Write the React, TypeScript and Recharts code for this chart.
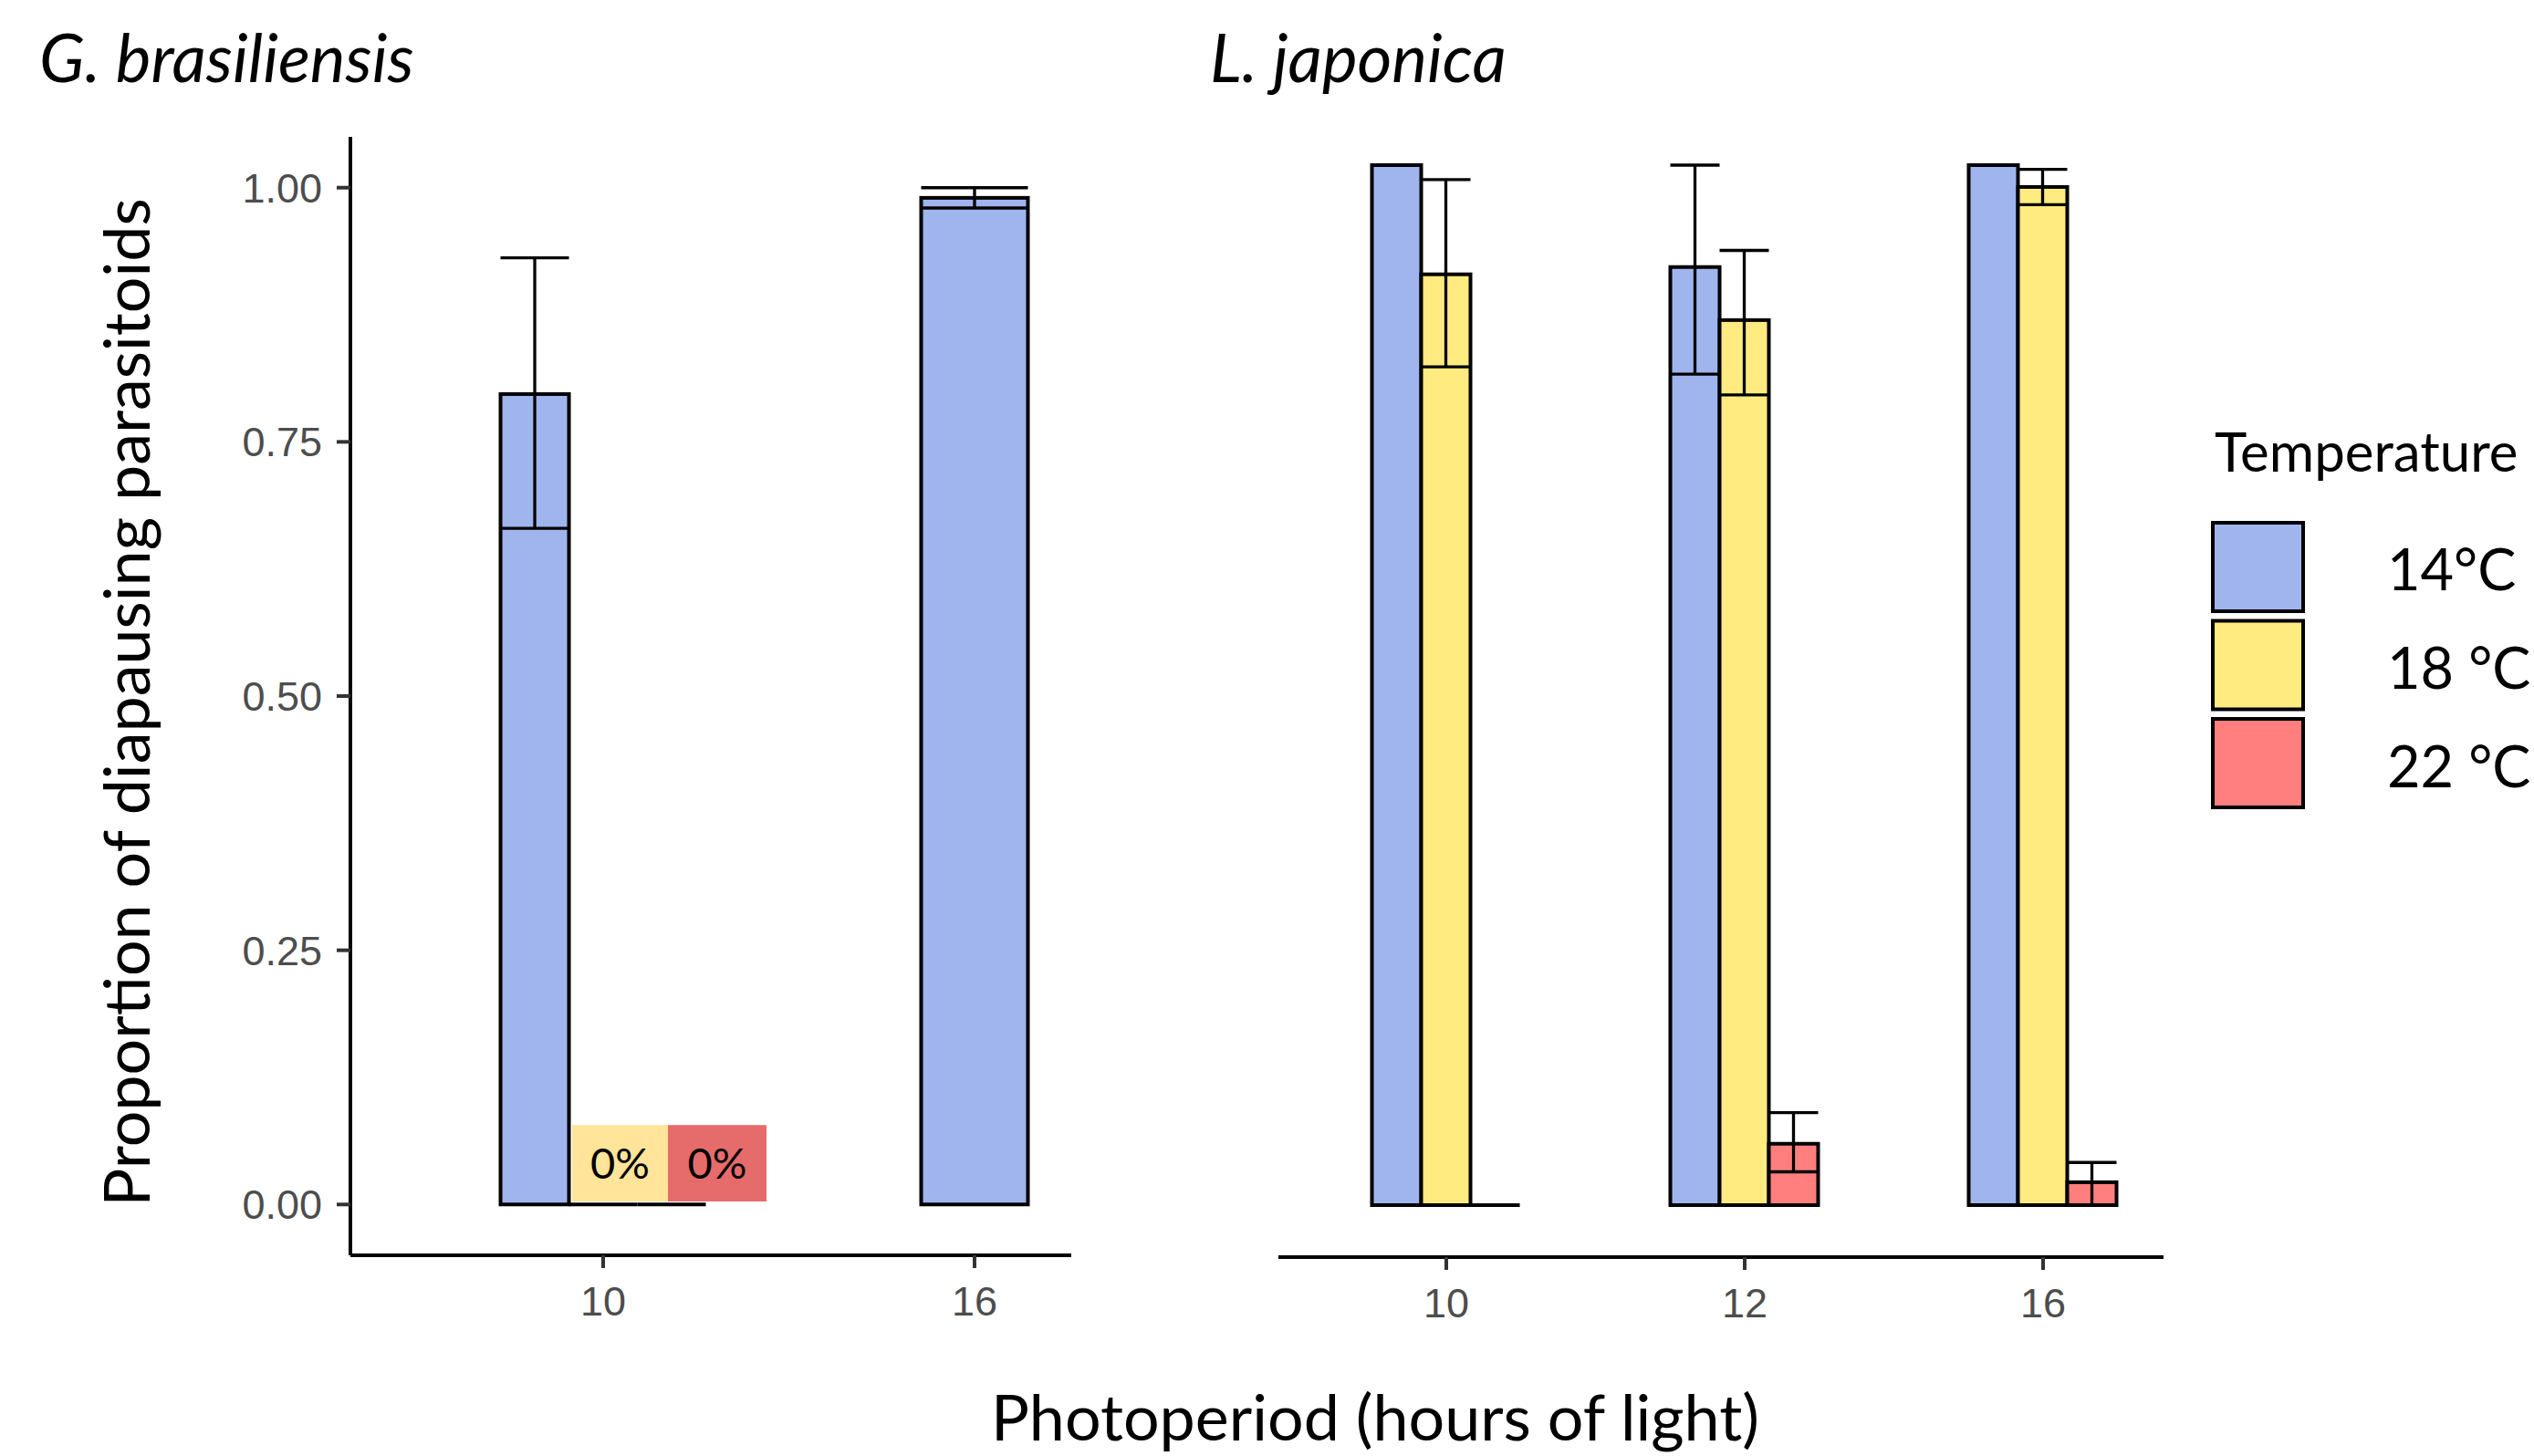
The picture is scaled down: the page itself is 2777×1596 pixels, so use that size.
import React from 'react';
import { BarChart, Bar, XAxis, YAxis, ErrorBar, ReferenceArea, Legend } from 'recharts';

const W = 2777;
const H = 1596;

// ---- G. brasiliensis ----
const gbPhotoperiod = [10, 16];
const gb14: (number | null)[] = [0.797, 0.99];
const gb14Low: (number | null)[] = [0.665, 0.98];
const gb14High: (number | null)[] = [0.931, 1.0];
const gb18: (number | null)[] = [0, null];
const gb22: (number | null)[] = [0, null];

// ---- L. japonica ----
const ljPhotoperiod = ['10', '12', '16'];
const lj14: (number | null)[] = [1.0, 0.902, 1.0];
const lj14Low: (number | null)[] = [null, 0.799, null];
const lj14High: (number | null)[] = [null, 1.0, null];
const lj18: (number | null)[] = [0.895, 0.851, 0.979];
const lj18Low: (number | null)[] = [0.806, 0.779, 0.962];
const lj18High: (number | null)[] = [0.986, 0.918, 0.996];
const lj22: (number | null)[] = [0, 0.059, 0.022];
const lj22Low: (number | null)[] = [null, 0.032, 0];
const lj22High: (number | null)[] = [null, 0.089, 0.041];

const temps = ['14°C', '18 °C', '22 °C'];
const tempColors = ['#A0B4ED', '#FFEB80', '#FF7F7F'];
const yTicks = [0, 0.25, 0.5, 0.75, 1];

// "0%" annotation boxes in the G. brasiliensis panel (data units)
const zeroLabels = ['0%', '0%'];
const zeroColors = ['#FFE49A', '#E66B6B'];
const zeroBoxX = [9.499, 11.047, 12.639];
const zeroBoxY = [0.003, 0.078];

const err = (v: number | null, lo: number | null, hi: number | null) =>
  v == null || lo == null || hi == null ? null : [v - lo, hi - v];

const gbRows = gbPhotoperiod.map((p, i) => {
  const single = gb18[i] == null && gb22[i] == null;
  return {
    x: p,
    t14: single ? null : gb14[i],
    e14: single ? null : err(gb14[i], gb14Low[i], gb14High[i]),
    t18: gb18[i],
    t22: gb22[i],
    s14: single ? gb14[i] : null,
    es14: single ? err(gb14[i], gb14Low[i], gb14High[i]) : null,
  };
});

const ljRows = ljPhotoperiod.map((p, i) => ({
  i,
  label: p,
  t14: lj14[i],
  e14: err(lj14[i], lj14Low[i], lj14High[i]),
  t18: lj18[i],
  e18: err(lj18[i], lj18Low[i], lj18High[i]),
  t22: lj22[i],
  e22: err(lj22[i], lj22Low[i], lj22High[i]),
}));

const BAR_STROKE = 4;
const ERR_STROKE = 3.3;

const makeShape = (key: string) => (props: any) => {
  const { x, y, width, height, fill, payload } = props;
  const v = payload ? payload[key] : undefined;
  if (v == null || x == null || y == null) return <g />;
  const h = Math.abs(height || 0);
  const top = height < 0 ? y + height : y;
  if (h < 0.5) {
    return (
      <line x1={x} x2={x + width} y1={top} y2={top} stroke="#000" strokeWidth={BAR_STROKE} />
    );
  }
  return (
    <rect x={x} y={top} width={width} height={h} fill={fill} stroke="#000" strokeWidth={BAR_STROKE} />
  );
};

const tickStyle = { fill: '#4d4d4d', fontSize: 45, fontFamily: 'Liberation Sans, Arial, sans-serif' };
const axisLineStyle = { stroke: '#000', strokeWidth: 4 };
const tickLineStyle = { stroke: '#333', strokeWidth: 4 };

// Geometry of the panels (pixels)
const GB_LEFT = 384;
const GB_RIGHT = 1174;
const GB_TOP = 150;
const GB_BOTTOM = 1376;
const LJ_LEFT = 1401;
const LJ_RIGHT = 2371;
const LJ_TOP = 124;
const LJ_BOTTOM = 1378;
const X_AXIS_H = 100;
const Y_AXIS_W = 200;

const gbDomain: [number, number] = [5.916, 17.563];
const ljDomain: [number, number] = [-0.5627, 2.4037];
const yDomain: [number, number] = [-0.05, 1.05];

// ErrorBar "width" in Recharts is the half-length of the whisker
const GB_BAR = 75;
const GB_SINGLE_BAR = 117;
const LJ_BAR = 54;

const renderLegend = (props: any) => {
  const items = (props && props.payload) || [];
  return (
    <svg width={397} height={480} style={{ overflow: 'visible', display: 'block' }}>
      <text x={47} y={97} fontFamily="Lato" fontSize={60} fill="#000">
        Temperature
      </text>
      {items.map((it: any, k: number) => (
        <g key={k}>
          <rect
            x={45}
            y={153 + k * 107.5}
            width={99}
            height={97}
            fill={it.color}
            stroke="#000"
            strokeWidth={4}
          />
          <text x={236} y={227 + k * 108} fontFamily="Lato" fontSize={63} fill="#000">
            {it.value}
          </text>
        </g>
      ))}
    </svg>
  );
};

export default function App() {
  const layer: React.CSSProperties = { position: 'absolute', left: 0, top: 0 };
  return (
    <div style={{ position: 'absolute', left: 0, top: 0, width: W, height: H, background: '#fff', overflow: 'hidden' }}>
      {/* G. brasiliensis: grouped bars */}
      <div style={layer}>
        <BarChart
          width={W}
          height={H}
          data={gbRows}
          margin={{ top: GB_TOP, right: W - GB_RIGHT, bottom: H - GB_BOTTOM - X_AXIS_H, left: GB_LEFT - Y_AXIS_W }}
          barGap={0}
        >
          <XAxis
            type="number"
            dataKey="x"
            domain={gbDomain}
            ticks={gbPhotoperiod}
            height={X_AXIS_H}
            tickSize={14}
            tickMargin={20}
            axisLine={axisLineStyle}
            tickLine={tickLineStyle}
            tick={tickStyle}
            interval={0}
          />
          <YAxis
            type="number"
            domain={yDomain}
            ticks={yTicks}
            tickFormatter={(v: number) => v.toFixed(2)}
            width={Y_AXIS_W}
            tickSize={15}
            tickMargin={16}
            axisLine={axisLineStyle}
            tickLine={tickLineStyle}
            tick={tickStyle}
            interval={0}
          />
          {zeroLabels.map((lab, k) => (
            <ReferenceArea
              key={k}
              x1={zeroBoxX[k]}
              x2={zeroBoxX[k + 1]}
              y1={zeroBoxY[0]}
              y2={zeroBoxY[1]}
              fill={zeroColors[k]}
              fillOpacity={1}
              stroke="none"
              label={{ value: lab, position: 'center', fill: '#000', fontSize: 47, fontFamily: 'Lato' }}
            />
          ))}
          <Bar dataKey="t14" name={temps[0]} fill={tempColors[0]} barSize={GB_BAR} shape={makeShape('t14')} isAnimationActive={false}>
            <ErrorBar dataKey="e14" direction="y" width={GB_BAR / 2} stroke="#000" strokeWidth={ERR_STROKE} />
          </Bar>
          <Bar dataKey="t18" name={temps[1]} fill={tempColors[1]} barSize={GB_BAR} shape={makeShape('t18')} isAnimationActive={false} />
          <Bar dataKey="t22" name={temps[2]} fill={tempColors[2]} barSize={GB_BAR} shape={makeShape('t22')} isAnimationActive={false} />
        </BarChart>
      </div>

      {/* G. brasiliensis: photoperiod with a single temperature */}
      <div style={layer}>
        <BarChart
          width={W}
          height={H}
          data={gbRows}
          margin={{ top: GB_TOP, right: W - GB_RIGHT, bottom: H - GB_BOTTOM, left: GB_LEFT }}
          barGap={0}
        >
          <XAxis type="number" dataKey="x" domain={gbDomain} ticks={gbPhotoperiod} hide />
          <YAxis type="number" domain={yDomain} ticks={yTicks} hide />
          <Bar dataKey="s14" name={temps[0]} fill={tempColors[0]} barSize={GB_SINGLE_BAR} shape={makeShape('s14')} isAnimationActive={false}>
            <ErrorBar dataKey="es14" direction="y" width={GB_SINGLE_BAR / 2} stroke="#000" strokeWidth={ERR_STROKE} />
          </Bar>
        </BarChart>
      </div>

      {/* L. japonica */}
      <div style={layer}>
        <BarChart
          width={W}
          height={H}
          data={ljRows}
          margin={{ top: LJ_TOP, right: W - LJ_RIGHT, bottom: H - LJ_BOTTOM - X_AXIS_H, left: LJ_LEFT }}
          barGap={0}
        >
          <XAxis
            type="number"
            dataKey="i"
            domain={ljDomain}
            ticks={[0, 1, 2]}
            tickFormatter={(v: number) => ljPhotoperiod[v] ?? ''}
            height={X_AXIS_H}
            tickSize={14}
            tickMargin={20}
            axisLine={axisLineStyle}
            tickLine={tickLineStyle}
            tick={tickStyle}
            interval={0}
          />
          <YAxis type="number" domain={yDomain} ticks={yTicks} hide />
          <Bar dataKey="t14" name={temps[0]} fill={tempColors[0]} barSize={LJ_BAR} shape={makeShape('t14')} isAnimationActive={false}>
            <ErrorBar dataKey="e14" direction="y" width={LJ_BAR / 2} stroke="#000" strokeWidth={ERR_STROKE} />
          </Bar>
          <Bar dataKey="t18" name={temps[1]} fill={tempColors[1]} barSize={LJ_BAR} shape={makeShape('t18')} isAnimationActive={false}>
            <ErrorBar dataKey="e18" direction="y" width={LJ_BAR / 2} stroke="#000" strokeWidth={ERR_STROKE} />
          </Bar>
          <Bar dataKey="t22" name={temps[2]} fill={tempColors[2]} barSize={LJ_BAR} shape={makeShape('t22')} isAnimationActive={false}>
            <ErrorBar dataKey="e22" direction="y" width={LJ_BAR / 2} stroke="#000" strokeWidth={ERR_STROKE} />
          </Bar>
          <Legend
            layout="horizontal"
            verticalAlign="middle"
            align="center"
            wrapperStyle={{ left: 2380, top: 420, width: 397, height: 480 }}
            content={renderLegend}
          />
        </BarChart>
      </div>

      {/* Titles and axis titles */}
      <svg width={W} height={H} style={{ ...layer, pointerEvents: 'none' }}>
        <text x={43} y={90} fontFamily="Lato" fontStyle="italic" fontSize={73} fill="#000">
          G. brasiliensis
        </text>
        <text x={1326} y={90} fontFamily="Lato" fontStyle="italic" fontSize={73} fill="#000">
          L. japonica
        </text>
        <text
          transform="translate(164,770) rotate(-90)"
          textAnchor="middle"
          fontFamily="Lato"
          fontSize={70}
          fill="#000"
        >
          Proportion of diapausing parasitoids
        </text>
        <text x={1507} y={1579} textAnchor="middle" fontFamily="Lato" fontSize={70} fill="#000">
          Photoperiod (hours of light)
        </text>
      </svg>
    </div>
  );
}
